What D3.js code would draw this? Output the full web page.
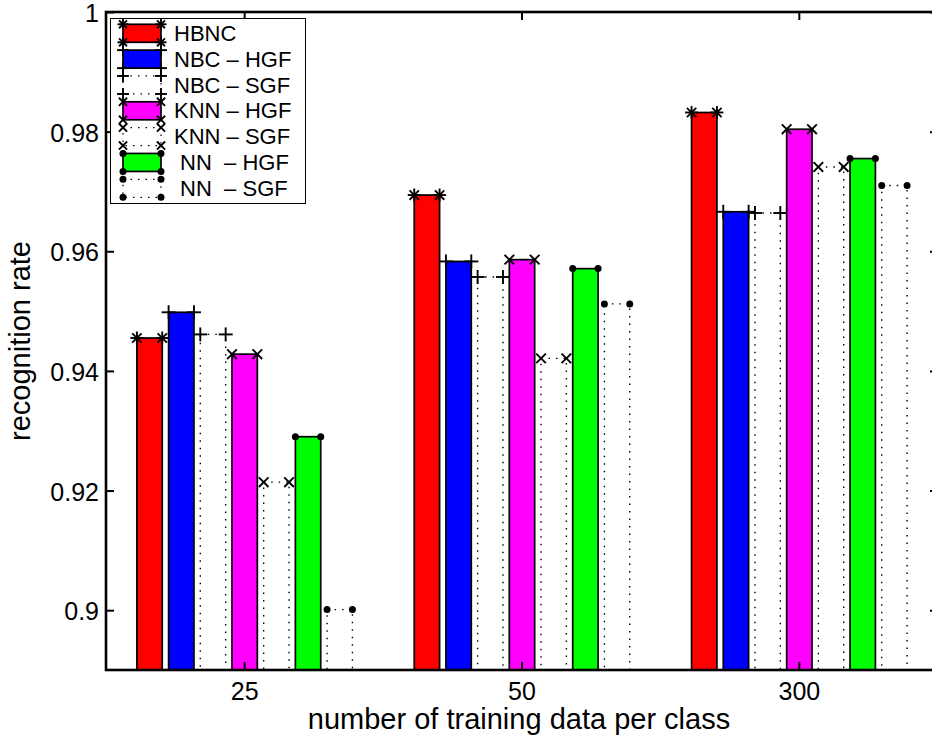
<!DOCTYPE html>
<html>
<head>
<meta charset="utf-8">
<script src="https://cdn.jsdelivr.net/npm/d3@7"></script>
<style>
  body { margin: 0; background: #fff; }
  svg { display: block; font-family: "Liberation Sans", Arial, Helvetica, sans-serif; }
  .axis text { font-size: 25px; fill: #000; }
  .axis line { stroke: #000; stroke-width: 2; }
  .axis-title { font-size: 29px; fill: #000; }
  .legend text { font-size: 22px; white-space: pre; }
</style>
</head>
<body>
<svg id="chart"></svg>
<script>
// categories on the x axis
const categories = ['25', '50', '300'];
const seriesNames = ['HBNC', 'NBC – HGF', 'NBC – SGF', 'KNN – HGF', 'KNN – SGF', ' NN  – HGF', ' NN  – SGF'];

// recognition rate per series, one value per category
const hbnc   = [0.9455, 0.9694, 0.9832];
const nbcHgf = [0.9498, 0.9583, 0.9666];
const nbcSgf = [0.9461, 0.9557, 0.9664];
const knnHgf = [0.9428, 0.9586, 0.9804];
const knnSgf = [0.9214, 0.9421, 0.9741];
const nnHgf  = [0.9290, 0.9571, 0.9755];
const nnSgf  = [0.9001, 0.9512, 0.9710];

const yTicks = [0.9, 0.92, 0.94, 0.96, 0.98, 1];
const yDomain = [0.89, 1];

const seriesValues = [hbnc, nbcHgf, nbcSgf, knnHgf, knnSgf, nnHgf, nnSgf];

// styling per series (kept apart from the values)
const fillColors = ['#ff0000', '#0000ff', 'none', '#ff00ff', 'none', '#00ff00', 'none'];
const markerTypes = ['*', '+', '+', 'x', 'x', '.', '.'];

const width = 932, height = 742;
const plot = { left: 106, top: 12, right: 938, bottom: 670 };

const svg = d3.select('#chart')
  .attr('width', width)
  .attr('height', height);

// Scales
const x0 = d3.scaleBand()
  .domain(categories)
  .range([plot.left, plot.right]);

const groupW = x0.bandwidth() * 0.8;
const x1 = d3.scaleBand()
  .domain(d3.range(seriesNames.length))
  .range([-groupW / 2, groupW / 2])
  .paddingInner(0.2)
  .paddingOuter(0.1);

const y = d3.scaleLinear()
  .domain(yDomain)
  .range([plot.bottom, plot.top]);

const color = d3.scaleOrdinal(d3.range(seriesNames.length), fillColors);

svg.append('clipPath').attr('id', 'clip')
  .append('rect')
  .attr('x', plot.left).attr('y', plot.top)
  .attr('width', plot.right - plot.left).attr('height', plot.bottom - plot.top);

// draw a MATLAB style marker centred on (cx, cy)
function marker(g, type, cx, cy, s) {
  const h = s / 2;
  const m = g.append('g').attr('transform', `translate(${cx},${cy})`)
    .attr('stroke', '#000').attr('stroke-width', 1.9).attr('fill', 'none');
  if (type === '+' || type === '*') {
    m.append('line').attr('x1', -h).attr('x2', h);
    m.append('line').attr('y1', -h).attr('y2', h);
  }
  if (type === 'x' || type === '*') {
    const d = type === '*' ? h * 0.72 : h * 0.8;
    m.append('line').attr('x1', -d).attr('y1', -d).attr('x2', d).attr('y2', d);
    m.append('line').attr('x1', -d).attr('y1', d).attr('x2', d).attr('y2', -d);
  }
  if (type === '.') {
    m.append('circle').attr('r', 3.5).attr('fill', '#000').attr('stroke', 'none');
  }
}

const markerSize = { '*': 13, '+': 14, 'x': 12, '.': 7 };

// Bars
const chart = svg.append('g').attr('clip-path', 'url(#clip)');

seriesValues.forEach((vals, i) => {
  const g = chart.append('g').attr('class', 'series');
  const hollow = fillColors[i] === 'none';
  vals.forEach((v, j) => {
    const left = x0(categories[j]) + x0.bandwidth() / 2 + x1(i);
    const w = x1.bandwidth();
    g.append('rect')
      .attr('x', left)
      .attr('y', y(v))
      .attr('width', w)
      .attr('height', y(yDomain[0]) - y(v) + 4)
      .attr('fill', hollow ? 'none' : color(i))
      .attr('stroke', '#000')
      .attr('stroke-width', hollow ? 1.4 : 1.7)
      .attr('stroke-dasharray', hollow ? '1.5 6' : null);
    marker(g, markerTypes[i], left, y(v), markerSize[markerTypes[i]]);
    marker(g, markerTypes[i], left + w, y(v), markerSize[markerTypes[i]]);
  });
});

// Axes: ticks point inward on all four sides
const yAxis = d3.axisLeft(y).tickValues(yTicks)
  .tickSizeInner(-8).tickSizeOuter(0).tickPadding(7)
  .tickFormat(d => d);
const yAxisR = d3.axisRight(y).tickValues(yTicks)
  .tickSizeInner(-8).tickSizeOuter(0).tickFormat('');
const xAxis = d3.axisBottom(x0)
  .tickSizeInner(-8).tickSizeOuter(0).tickPadding(12);
const xAxisT = d3.axisTop(x0)
  .tickSizeInner(-8).tickSizeOuter(0).tickFormat('');

svg.append('g').attr('class', 'axis').attr('transform', `translate(${plot.left},0)`)
  .call(yAxis)
  .call(g => g.select('.domain').remove())
  .call(g => g.selectAll('text').attr('dy', '0.38em'));
svg.append('g').attr('class', 'axis').attr('transform', `translate(${plot.right},0)`)
  .call(yAxisR).call(g => g.select('.domain').remove());
svg.append('g').attr('class', 'axis').attr('transform', `translate(0,${plot.bottom})`)
  .call(xAxis).call(g => g.select('.domain').remove());
svg.append('g').attr('class', 'axis').attr('transform', `translate(0,${plot.top})`)
  .call(xAxisT).call(g => g.select('.domain').remove());

// axis box
svg.append('rect')
  .attr('x', plot.left).attr('y', plot.top)
  .attr('width', plot.right - plot.left).attr('height', plot.bottom - plot.top)
  .attr('fill', 'none').attr('stroke', '#000').attr('stroke-width', 2.6);

// Axis titles
svg.append('text')
  .attr('class', 'axis-title')
  .attr('x', (plot.left + plot.right) / 2 - 3)
  .attr('y', 729)
  .attr('text-anchor', 'middle')
  .text('number of training data per class');

svg.append('text')
  .attr('class', 'axis-title')
  .attr('transform', `translate(30,${(plot.top + plot.bottom) / 2}) rotate(-90)`)
  .attr('text-anchor', 'middle')
  .text('recognition rate');

// Legend
const legend = svg.append('g').attr('class', 'legend');
legend.append('rect')
  .attr('x', 110.5).attr('y', 18.5)
  .attr('width', 195).attr('height', 185)
  .attr('fill', '#fff').attr('stroke', '#000').attr('stroke-width', 1);

seriesNames.forEach((name, i) => {
  const cy = 33.3 + i * 25.83;
  const hollow = fillColors[i] === 'none';
  const item = legend.append('g');
  item.append('rect')
    .attr('x', 123).attr('y', cy - 9)
    .attr('width', 38).attr('height', 18)
    .attr('fill', hollow ? 'none' : color(i))
    .attr('stroke', '#000')
    .attr('stroke-width', hollow ? 1.2 : 1.7)
    .attr('stroke-dasharray', hollow ? '1.5 6' : null);
  const s = markerSize[markerTypes[i]] * 0.85;
  [[123, cy - 9], [161, cy - 9], [123, cy + 9], [161, cy + 9]]
    .forEach(p => marker(item, markerTypes[i], p[0], p[1], s));
  item.append('text')
    .attr('x', 174)
    .attr('y', cy)
    .attr('dy', '0.35em')
    .text(name);
});
</script>
</body>
</html>
